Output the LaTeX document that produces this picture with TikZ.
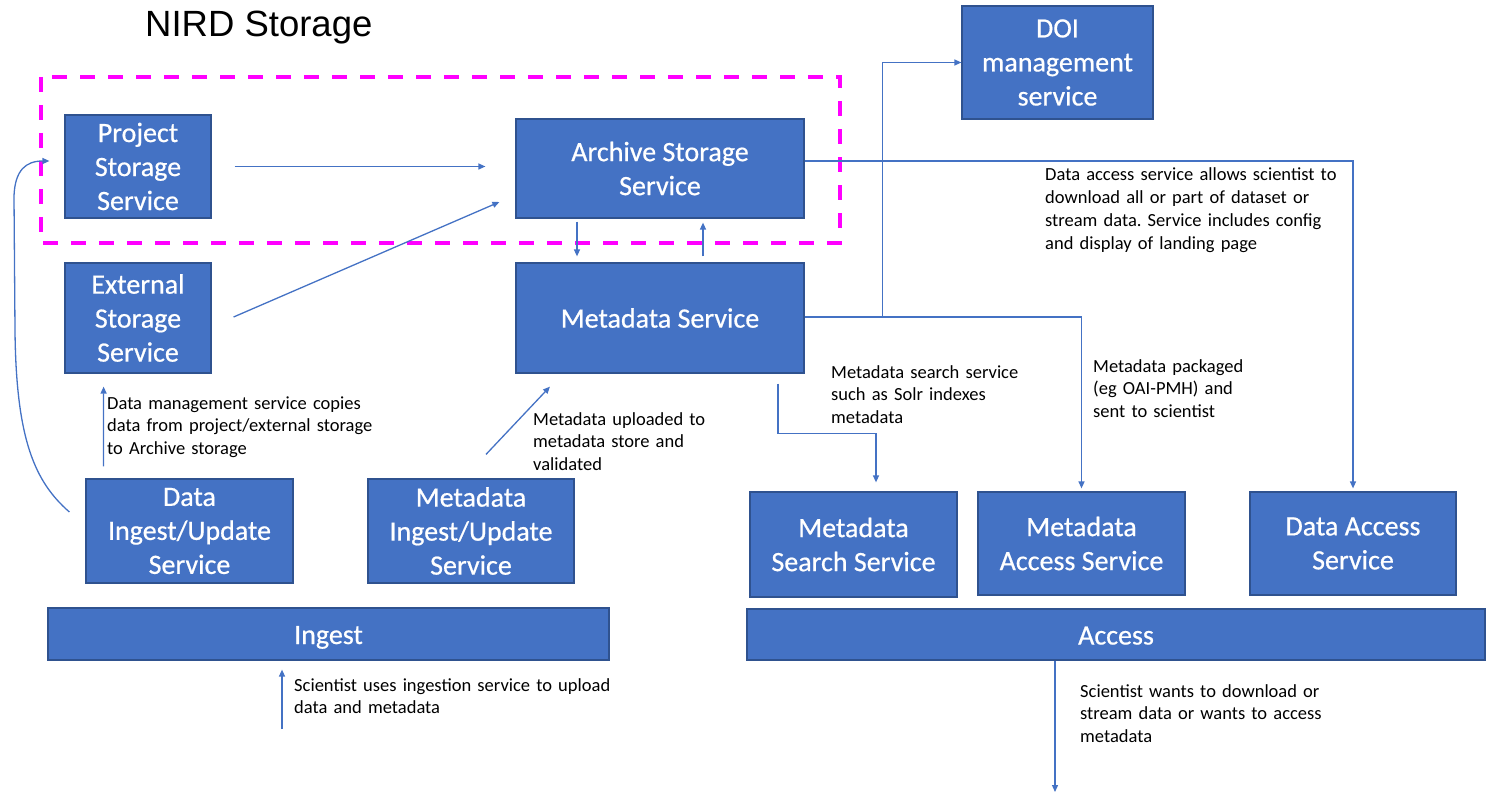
\documentclass[tikz,border=0pt]{standalone}
\usepackage{fontspec}
\setmainfont{Carlito}
\newfontfamily\titlefont{Liberation Sans}
\newfontfamily\boxfont{Carlito}[FakeBold=0.6]
\usetikzlibrary{arrows.meta,calc}
\definecolor{boxblue}{HTML}{4472C4}
\definecolor{boxedge}{HTML}{2F528F}
\definecolor{linkblue}{HTML}{4472C4}
\definecolor{magentadash}{HTML}{FF00FF}
\tikzset{
  svc/.style={draw=boxedge, line width=1.2pt, fill=boxblue, text=white, align=center, inner sep=0pt,
    font=\boxfont\fontsize{28}{34}\selectfont},
  bar/.style={svc, text height=20pt, text depth=0pt},
  note/.style={anchor=base west, inner sep=0pt, text width=#1, align=left,
    font=\fontsize{18.5}{22.7}\selectfont},
  arr/.style={draw=linkblue, line width=1.3pt, -{Triangle[length=7pt,width=6pt]}},
}
\begin{document}
\frenchspacing
\begin{tikzpicture}[x=1pt,y=-1pt]
\useasboundingbox (0,0) rectangle (1491,794);
% title
\node[anchor=base west, inner sep=0pt, font=\titlefont\fontsize{36.5}{40}\selectfont] (title) at (145,37) {NIRD Storage};
% dashed group
\draw[magentadash, line width=4pt, dash pattern=on 15pt off 13pt] (41,77) rectangle (840,243);
% boxes
\node[svc, minimum width=146pt, minimum height=103pt] (proj) at (138,166.5) {Project\\Storage\\Service};
\node[svc, minimum width=288pt, minimum height=99pt] (arch) at (660,168.5) {Archive Storage\\Service};
\node[svc, minimum width=146pt, minimum height=110pt] (ext) at (138,318) {External\\Storage\\Service};
\node[svc, minimum width=288pt, minimum height=110pt] (meta) at (660,318) {Metadata Service};
\node[svc, minimum width=191pt, minimum height=113pt] (doi) at (1057.5,62.5) {DOI\\management\\service};
\node[svc, minimum width=207pt, minimum height=104pt] (dingest) at (189.5,531) {Data\\Ingest/Update\\Service};
\node[svc, minimum width=206pt, minimum height=104pt] (mingest) at (471,531) {Metadata\\Ingest/Update\\Service};
\node[svc, minimum width=207pt, minimum height=105pt] (msearch) at (853.5,544.5) {Metadata\\Search Service};
\node[svc, minimum width=207pt, minimum height=103pt] (maccess) at (1081.5,543.5) {Metadata\\Access Service};
\node[svc, minimum width=206pt, minimum height=103pt] (daccess) at (1353,543.5) {Data Access\\Service};
\node[bar, minimum width=561pt, minimum height=52pt] (ingest) at (328.5,634) {Ingest};
\node[bar, minimum width=738pt, minimum height=51pt] (access) at (1116,634.5) {Access};
% notes
\node[note=300pt] (n1) at (1045,181) {Data access service allows scientist to\\download all or part of dataset or\\stream data. Service includes config\\and display of landing page};
\node[note=220pt] (n2) at (831,378) {Metadata search service\\such as Solr indexes\\metadata};
\node[note=200pt] (n3) at (1093,372) {Metadata packaged\\(eg OAI-PMH) and\\sent to scientist};
\node[note=260pt] (n4) at (1080,697) {Scientist wants to download or\\stream data or wants to access\\metadata};
\node[note=330pt] (n5) at (294,691) {Scientist uses ingestion service to upload\\data and metadata};
\node[note=300pt] (n6) at (107,409) {Data management service copies\\data from project/external storage\\to Archive storage};
\node[note=200pt] (n7) at (533,425) {Metadata uploaded to\\metadata store and\\validated};
% connectors
\draw[arr, shorten <=23pt, shorten >=30pt] (proj.east) -- (proj.east -| arch.west);
\draw[arr] ($(ext.east)+(22,-1)$) -- ($(arch.west)+(-16,33.5)$);
\draw[arr, shorten <=3pt, shorten >=6pt] ($(arch.south)+(-83,0)$) -- ($(meta.north)+(-83,0)$);
\draw[arr, shorten <=6pt, shorten >=4pt] ($(meta.north)+(43,0)$) -- ($(arch.south)+(43,0)$);
\draw[arr, shorten >=3pt] ($(arch.east)+(0,-7.5)$) -| (daccess.north);
\draw[arr, shorten >=3pt] ($(meta.east)+(0,-1)$) -| (maccess.north);
\draw[arr] ($(meta.east)+(78,-1)$) |- (doi.west);
\draw[arr, shorten <=10pt, shorten >=9pt] ($(meta.south)+(118,0)$) -- ++(0,60) -| ($(msearch.north)+(22.5,0)$);
\draw[arr] ($(dingest.north)+(-86,-12)$) -- ($(ext.south)+(-34.4,13)$);
\draw[arr] ($(mingest.north)+(15,-24)$) -- ($(meta.south)+(-110,13)$);
\draw[arr] ($(dingest.west)+(-16,-19)$) .. controls (35,482) and (16,440) .. (15,330)
  -- (14,196) .. controls (15,170) and (26,161) .. ($(proj.west)+(-15,-5.5)$);
\coordinate (sci1) at (282,729);
\coordinate (sci2) at (1055,792);
\draw[arr, shorten >=9pt] (sci1) -- (ingest.south -| sci1);
\draw[arr] (access.south -| sci2) -- (sci2);
\end{tikzpicture}
\end{document}
